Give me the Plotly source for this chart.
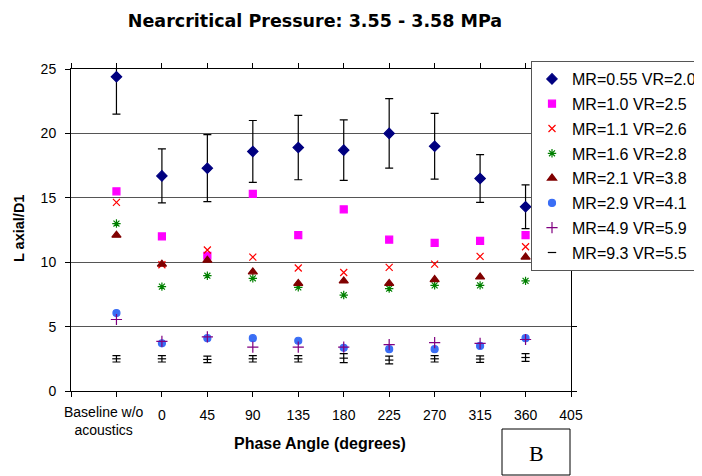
import plotly.graph_objects as go

x_pos = [-45, 0, 45, 90, 135, 180, 225, 270, 315, 360]
tick_vals = [-90, -45, 0, 45, 90, 135, 180, 225, 270, 315, 360, 405]
tick_text = ["", "", "0", "45", "90", "135", "180", "225", "270", "315", "360", "405"]
baseline_label = "Baseline w/o<br>acoustics"

mr055 = [24.4, 16.7, 17.3, 18.6, 18.9, 18.7, 20.0, 19.0, 16.5, 14.3]
mr055_err = [2.9, 2.1, 2.6, 2.4, 2.5, 2.35, 2.7, 2.55, 1.85, 1.7]
mr10 = [15.5, 12.0, 10.5, 15.3, 12.1, 14.1, 11.75, 11.5, 11.65, 12.1]
mr11 = [14.65, 9.8, 10.95, 10.4, 9.55, 9.2, 9.6, 9.85, 10.45, 11.2]
mr16 = [13.0, 8.1, 8.95, 8.75, 8.05, 7.45, 7.95, 8.2, 8.2, 8.55]
mr21 = [12.1, 9.85, 10.15, 9.25, 8.35, 8.55, 8.35, 8.65, 8.85, 10.4]
mr29 = [6.05, 3.7, 4.1, 4.1, 3.9, 3.35, 3.25, 3.25, 3.5, 4.1]
mr49 = [5.55, 3.85, 4.2, 3.4, 3.4, 3.4, 3.6, 3.75, 3.7, 4.0]
mr93 = [2.5, 2.5, 2.45, 2.5, 2.5, 2.55, 2.4, 2.5, 2.48, 2.6]
mr93_err = [0.25, 0.25, 0.25, 0.25, 0.25, 0.35, 0.3, 0.25, 0.25, 0.3]

series = [
    ("MR=0.55 VR=2.0", mr055, "diamond", "#000080", 8, mr055_err),
    ("MR=1.0 VR=2.5", mr10, "square", "#FF00FF", 7, None),
    ("MR=1.1 VR=2.6", mr11, "x-thin-open", "#FF0000", 7, None),
    ("MR=1.6 VR=2.8", mr16, "asterisk-open", "#008000", 7, None),
    ("MR=2.1 VR=3.8", mr21, "triangle-up", "#800000", 8, None),
    ("MR=2.9 VR=4.1", mr29, "circle", "#3A6EF5", 7, None),
    ("MR=4.9 VR=5.9", mr49, "cross-thin-open", "#800080", 8, None),
    ("MR=9.3 VR=5.5", mr93, "line-ew-open", "#000000", 6, mr93_err),
]

fig = go.Figure()
for i, (name, vals, sym, col, sz, err) in enumerate(series):
    kw = {}
    if err is not None:
        kw["error_y"] = dict(type="data", array=err, visible=True, color="#000000",
                             thickness=1.2, width=4)
    fig.add_trace(go.Scatter(
        x=x_pos, y=vals, mode="markers", name=name, legendgroup=f"g{i}",
        marker=dict(symbol=sym, color=col, size=sz, line=dict(color=col, width=1.2)),
        **kw))

# page body has an 8px margin; plot area is placed so it shows at x 71-571, y 69-391
OFF = 8
PL, PR, PT, PB = 71, 571, 69, 391
PW, PH = PR - PL, PB - PT


def px(xv):
    return (xv - PL) / PW


def py(yv):
    return (PB - yv) / PH


fig.update_layout(
    width=702, height=476,
    margin=dict(l=PL - OFF, r=702 - (PR - OFF), t=PT - OFF, b=476 - (PB - OFF), autoexpand=False),
    paper_bgcolor="white", plot_bgcolor="white",
    font=dict(family="Liberation Sans, Arial, sans-serif", size=14, color="black"),
    title=dict(text="<b>Nearcritical Pressure: 3.55 - 3.58 MPa</b>",
               x=(315 - OFF) / 702, xanchor="center",
               y=1 - (21 - OFF) / 476, yanchor="middle",
               font=dict(family="DejaVu Sans, sans-serif", size=17.5)),
    showlegend=True,
    legend=dict(x=px(531), xanchor="left", y=py(61), yanchor="top",
                bgcolor="white", bordercolor="#555555", borderwidth=1,
                font=dict(size=16), tracegroupgap=1, itemwidth=30),
    xaxis=dict(range=[-90, 405], tickvals=tick_vals, ticktext=tick_text, tickangle=0,
               automargin=False, ticklabelstandoff=6,
               showgrid=False, zeroline=False, showline=True, linecolor="black",
               linewidth=1, mirror="allticks", ticks="outside", ticklen=5,
               tickcolor="black"),
    yaxis=dict(range=[0, 25], tickvals=[0, 5, 10, 15, 20, 25], showgrid=True,
               automargin=False, ticklabelstandoff=6,
               gridcolor="#555555", gridwidth=1, zeroline=False, showline=True,
               linecolor="black", linewidth=1, mirror="allticks", ticks="outside",
               ticklen=5, tickcolor="black"),
    shapes=[dict(type="rect", xref="paper", yref="paper", x0=px(502), x1=px(570),
                 y0=py(475), y1=py(429), line=dict(color="black", width=1),
                 fillcolor="white")],
    annotations=[
        dict(text=baseline_label, xref="paper", yref="paper", x=px(104), y=py(421),
             xanchor="center", yanchor="middle", showarrow=False, font=dict(size=14)),
        dict(text="B", xref="paper", yref="paper", x=px(536), y=py(453),
             xanchor="center", yanchor="middle",
             showarrow=False, font=dict(family="Liberation Serif, Times New Roman, serif",
                                        size=22, color="black")),
        dict(text="<b>Phase Angle (degrees)</b>", xref="paper", yref="paper",
             x=px(320), y=py(443), xanchor="center", yanchor="middle",
             showarrow=False, font=dict(size=16)),
        dict(text="<b>L axial/D1</b>", xref="paper", yref="paper",
             x=px(19), y=py(229), xanchor="center", yanchor="middle",
             textangle=-90, showarrow=False, font=dict(size=14.5)),
    ],
)

fig.write_html("out.html")
